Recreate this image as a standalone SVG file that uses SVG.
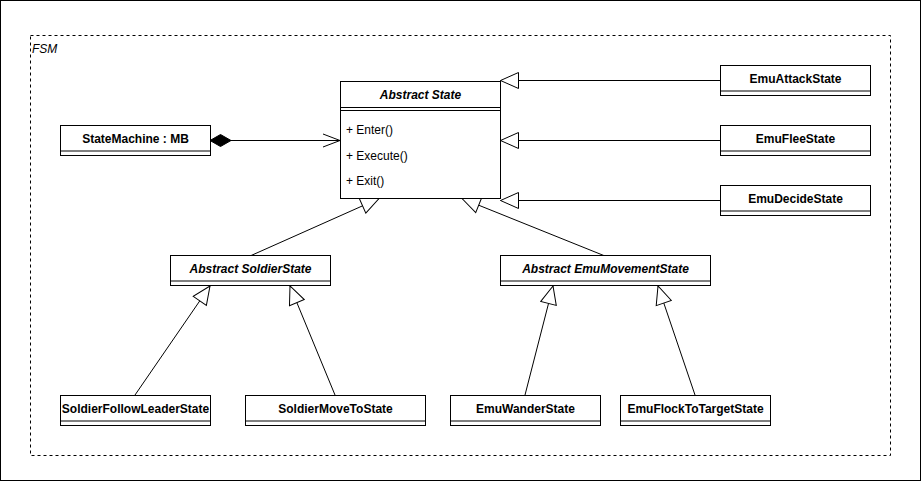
<svg xmlns="http://www.w3.org/2000/svg" width="922" height="482" viewBox="0 0 922 482">
<defs>
<style>
.box{fill:#fff;stroke:#000;stroke-width:1}
.ln{stroke:#000;stroke-width:1;fill:none}
.t{font-family:"Liberation Sans",Arial,sans-serif;font-size:12px;fill:#000}
.b{font-weight:bold;text-anchor:middle}
.bi{font-weight:bold;font-style:italic;text-anchor:middle}
.tri{fill:#fff;stroke:#000;stroke-width:1}
</style>
<marker id="gen" viewBox="0 0 20 18" refX="19" refY="9" markerWidth="20" markerHeight="18" markerUnits="userSpaceOnUse" orient="auto">
<path d="M19,9 L1,1 L1,17 Z" class="tri"/>
</marker>
<marker id="open" viewBox="0 0 20 16" refX="18" refY="8" markerWidth="20" markerHeight="16" markerUnits="userSpaceOnUse" orient="auto">
<path d="M1,1.5 L18,8 L1,14.5" class="ln"/>
</marker>
<marker id="dia" viewBox="0 0 24 14" refX="1" refY="7" markerWidth="24" markerHeight="14" markerUnits="userSpaceOnUse" orient="auto">
<path d="M1,7 L11.5,1 L22,7 L11.5,13 Z" fill="#000" stroke="#000"/>
</marker>
</defs>
<rect x="0.5" y="0.5" width="920" height="480" fill="#fff" stroke="#000"/>
<g id="fsm">
<rect x="30.5" y="35.5" width="860" height="420" fill="none" stroke="#000" stroke-dasharray="3,3"/>
<text class="t" x="32" y="53" font-style="italic">FSM</text>
</g>
<g id="connectors">
<line class="ln" x1="210" y1="140.5" x2="340" y2="140.5" marker-start="url(#dia)" marker-end="url(#open)"/>
<line class="ln" x1="720" y1="80.5" x2="500.5" y2="80.5" marker-end="url(#gen)"/>
<line class="ln" x1="720" y1="140.5" x2="500.5" y2="140.5" marker-end="url(#gen)"/>
<line class="ln" x1="720" y1="200.5" x2="500.5" y2="200.5" marker-end="url(#gen)"/>
<line class="ln" x1="250" y1="256" x2="379" y2="198.5" marker-end="url(#gen)"/>
<line class="ln" x1="605" y1="256" x2="462" y2="198.5" marker-end="url(#gen)"/>
<line class="ln" x1="135" y1="395" x2="210" y2="286" marker-end="url(#gen)"/>
<line class="ln" x1="335" y1="395" x2="290" y2="286" marker-end="url(#gen)"/>
<line class="ln" x1="525" y1="395" x2="553" y2="286" marker-end="url(#gen)"/>
<line class="ln" x1="695" y1="395" x2="658" y2="286" marker-end="url(#gen)"/>
</g>
<g id="abstract-state">
<rect class="box" x="340.5" y="81.5" width="160" height="117"/>
<line class="ln" x1="340.5" y1="107.5" x2="500.5" y2="107.5"/>
<line class="ln" x1="340.5" y1="110.5" x2="500.5" y2="110.5"/>
<text class="t bi" x="420.5" y="99">Abstract State</text>
<text class="t" x="346" y="134">+ Enter()</text>
<text class="t" x="346" y="159.5">+ Execute()</text>
<text class="t" x="346" y="185">+ Exit()</text>
</g>
<g id="state-machine">
<rect class="box" x="60.5" y="125.5" width="150" height="30"/>
<line class="ln" x1="60.5" y1="151" x2="210.5" y2="151"/>
<text class="t b" x="135.5" y="143">StateMachine : MB</text>
</g>
<g id="emu-attack">
<rect class="box" x="720.5" y="65.5" width="150" height="30"/>
<line class="ln" x1="720.5" y1="91" x2="870.5" y2="91"/>
<text class="t b" x="795.5" y="83">EmuAttackState</text>
</g>
<g id="emu-flee">
<rect class="box" x="720.5" y="125.5" width="150" height="30"/>
<line class="ln" x1="720.5" y1="151" x2="870.5" y2="151"/>
<text class="t b" x="795.5" y="143">EmuFleeState</text>
</g>
<g id="emu-decide">
<rect class="box" x="720.5" y="185.5" width="150" height="30"/>
<line class="ln" x1="720.5" y1="211" x2="870.5" y2="211"/>
<text class="t b" x="795.5" y="203">EmuDecideState</text>
</g>
<g id="abstract-soldier">
<rect class="box" x="170.5" y="255.5" width="160" height="30"/>
<line class="ln" x1="170.5" y1="281" x2="330.5" y2="281"/>
<text class="t bi" x="250.5" y="273">Abstract SoldierState</text>
</g>
<g id="abstract-emu-movement">
<rect class="box" x="500.5" y="255.5" width="210" height="30"/>
<line class="ln" x1="500.5" y1="281" x2="710.5" y2="281"/>
<text class="t bi" x="605.5" y="273">Abstract EmuMovementState</text>
</g>
<g id="soldier-follow">
<rect class="box" x="60.5" y="395.5" width="150" height="30"/>
<line class="ln" x1="60.5" y1="421" x2="210.5" y2="421"/>
<text class="t b" x="135.5" y="413">SoldierFollowLeaderState</text>
</g>
<g id="soldier-moveto">
<rect class="box" x="245.5" y="395.5" width="180" height="30"/>
<line class="ln" x1="245.5" y1="421" x2="425.5" y2="421"/>
<text class="t b" x="335.5" y="413">SoldierMoveToState</text>
</g>
<g id="emu-wander">
<rect class="box" x="450.5" y="395.5" width="150" height="30"/>
<line class="ln" x1="450.5" y1="421" x2="600.5" y2="421"/>
<text class="t b" x="525.5" y="413">EmuWanderState</text>
</g>
<g id="emu-flock">
<rect class="box" x="620.5" y="395.5" width="150" height="30"/>
<line class="ln" x1="620.5" y1="421" x2="770.5" y2="421"/>
<text class="t b" x="695.5" y="413">EmuFlockToTargetState</text>
</g>
</svg>
